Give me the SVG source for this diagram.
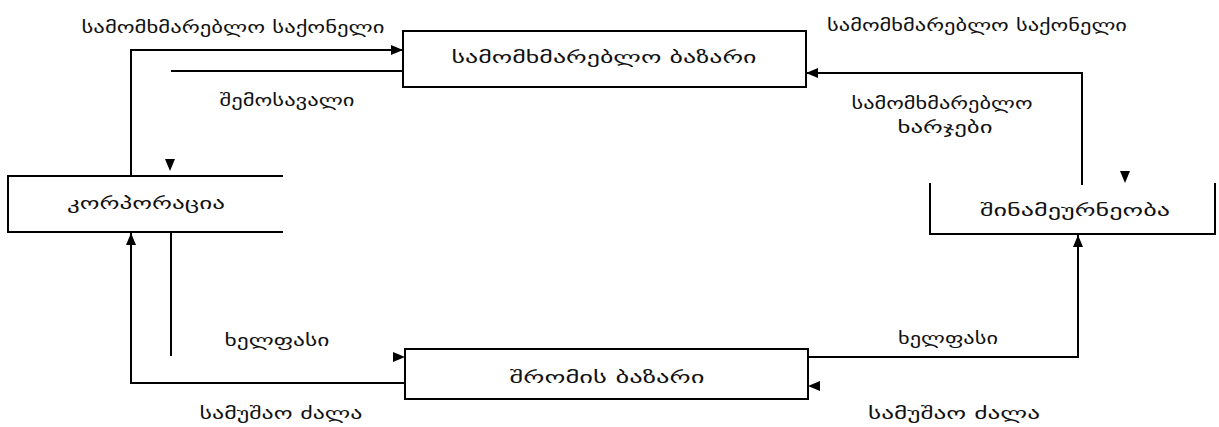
<svg xmlns="http://www.w3.org/2000/svg" width="1219" height="427" viewBox="0 0 1219 427">
<style>
.ln{fill:none;stroke:#000;stroke-width:2}
.bx{fill:none;stroke:#000;stroke-width:2}
.tx{font-family:"DejaVu Sans","Noto Sans",sans-serif;font-size:16px;fill:#111;text-anchor:middle;dominant-baseline:central}
.ah{fill:#000}
</style>
<defs>
<marker id="arr" viewBox="0 0 12 10" refX="12" refY="5" markerWidth="12" markerHeight="10" markerUnits="userSpaceOnUse" orient="auto">
<path d="M0,0 L12,5 L0,10 Z" fill="#000"/>
</marker>
<path id="tri" d="M-12,-5 L0,0 L-12,5 Z"/>
</defs>
<rect width="1219" height="427" fill="#fff"/>
<g id="node-consumer-market">
<rect class="bx" x="403" y="31" width="403" height="56"/>
<text class="tx" x="604" y="57" textLength="305" lengthAdjust="spacingAndGlyphs">სამომხმარებლო ბაზარი</text>
</g>
<g id="node-labor-market">
<rect class="bx" x="405" y="349" width="403" height="50"/>
<text class="tx" x="607" y="377" textLength="195" lengthAdjust="spacingAndGlyphs">შრომის ბაზარი</text>
</g>
<g id="node-corporation">
<path class="bx" d="M283,176 H8 V232 H283"/>
<text class="tx" x="146" y="203" textLength="158" lengthAdjust="spacingAndGlyphs">კორპორაცია</text>
</g>
<g id="node-household">
<path class="bx" d="M930,183 V234 H1215 V183"/>
<text class="tx" x="1075" y="210" textLength="190" lengthAdjust="spacingAndGlyphs">შინამეურნეობა</text>
</g>
<g id="connectors">
<path class="ln" d="M131,176 V50 H403" marker-end="url(#arr)"/>
<path class="ln" d="M171,71 H403"/>
<use href="#tri" class="ah" transform="translate(170,171) rotate(90)"/>
<path class="ln" d="M405,383 H131 V233" marker-end="url(#arr)"/>
<path class="ln" d="M171,232 V356"/>
<use href="#tri" class="ah" transform="translate(405,357)"/>
<path class="ln" d="M808,357 H1078 V235" marker-end="url(#arr)"/>
<use href="#tri" class="ah" transform="translate(808,386) rotate(180)"/>
<path class="ln" d="M1082,185 V73 H806" marker-end="url(#arr)"/>
<use href="#tri" class="ah" transform="translate(1125,183) rotate(90)"/>
</g>
<g id="labels">
<text class="tx" x="233" y="27" textLength="303" lengthAdjust="spacingAndGlyphs">სამომხმარებლო საქონელი</text>
<text class="tx" x="287" y="100" textLength="135" lengthAdjust="spacingAndGlyphs">შემოსავალი</text>
<text class="tx" x="977" y="25" textLength="300" lengthAdjust="spacingAndGlyphs">სამომხმარებლო საქონელი</text>
<text class="tx" x="942" y="103" textLength="181" lengthAdjust="spacingAndGlyphs">სამომხმარებლო</text>
<text class="tx" x="945" y="127" textLength="95" lengthAdjust="spacingAndGlyphs">ხარჯები</text>
<text class="tx" x="277" y="340" textLength="105" lengthAdjust="spacingAndGlyphs">ხელფასი</text>
<text class="tx" x="281" y="413" textLength="163" lengthAdjust="spacingAndGlyphs">სამუშაო ძალა</text>
<text class="tx" x="948" y="338" textLength="100" lengthAdjust="spacingAndGlyphs">ხელფასი</text>
<text class="tx" x="954" y="413" textLength="172" lengthAdjust="spacingAndGlyphs">სამუშაო ძალა</text>
</g>
</svg>
